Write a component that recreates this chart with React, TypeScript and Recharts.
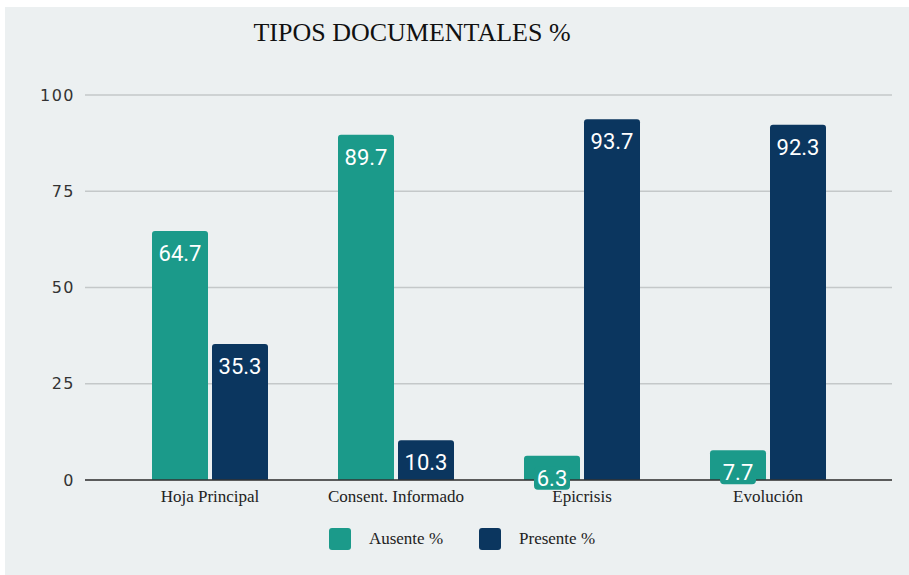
import React from 'react';
import { BarChart, Bar, XAxis, YAxis, CartesianGrid, Legend, LabelList } from 'recharts';

const categories = ['Hoja Principal', 'Consent. Informado', 'Epicrisis', 'Evolución'];
const ausente = [64.7, 89.7, 6.3, 7.7];
const presente = [35.3, 10.3, 93.7, 92.3];
const seriesNames = ['Ausente %', 'Presente %'];
const seriesColors = ['#1b9a8a', '#0b365f'];
const yTicks = [0, 25, 50, 75, 100];
const title = 'TIPOS DOCUMENTALES %';

const data = categories.map((c, i) => ({ name: c, ausente: ausente[i], presente: presente[i] }));

const makeLabel = (color: string) => (props: any) => {
  const { x, y, width, height, value } = props;
  const cx = Number(x) + Number(width) / 2;
  const top = Number(y);
  const small = Number(height) < 36;
  return (
    <g>
      {small && (
        <rect x={cx - 18} y={top + 11} width={36} height={23} rx={4} ry={4} fill={color} />
      )}
      <text
        x={cx}
        y={top + 30}
        textAnchor="middle"
        fill="#ffffff"
        fontFamily="Roboto"
        fontSize={22}
      >
        {String(value)}
      </text>
    </g>
  );
};

const renderLegend = () => (
  <div
    style={{
      display: 'flex',
      justifyContent: 'center',
      alignItems: 'center',
      height: 40,
      paddingLeft: 32,
      fontFamily: '"Liberation Serif", serif',
      fontSize: 17,
      color: '#222',
    }}
  >
    {seriesNames.map((n, i) => (
      <div key={n} style={{ display: 'flex', alignItems: 'center', marginRight: i === 0 ? 36 : 0 }}>
        <div style={{ width: 22, height: 22, borderRadius: 3, background: seriesColors[i], marginRight: 18 }} />
        <span>{n}</span>
      </div>
    ))}
  </div>
);

export default function App() {
  return (
    <div style={{ position: 'absolute', left: 0, top: 0, width: 909, height: 575, background: '#ffffff' }}>
      <div style={{ position: 'absolute', left: 5, top: 7, width: 904, height: 568, background: '#ecf0f1' }} />
      <div
        style={{
          position: 'absolute',
          left: 212,
          top: 15,
          width: 400,
          textAlign: 'center',
          fontFamily: '"Liberation Serif", serif',
          fontSize: 26,
          color: '#111',
          lineHeight: '36px',
        }}
      >
        {title}
      </div>
      <div style={{ position: 'absolute', left: 0, top: 0 }}>
        <BarChart
          width={909}
          height={575}
          data={data}
          margin={{ top: 95, right: 17, bottom: 16, left: 0 }}
          barSize={56}
          barGap={4}
        >
          <CartesianGrid vertical={false} stroke="#c4c8c9" strokeWidth={1.3} />
          <XAxis
            dataKey="name"
            height={39}
            padding={{ left: 32, right: 31 }}
            tickLine={false}
            tickSize={0}
            tickMargin={10}
            axisLine={{ stroke: '#333', strokeWidth: 1.3 }}
            tick={{ fontFamily: '"Liberation Serif", serif', fontSize: 17, fill: '#222' }}
            interval={0}
          />
          <YAxis
            domain={[0, 100]}
            ticks={yTicks}
            width={85}
            axisLine={false}
            tickLine={false}
            tickSize={0}
            tickMargin={10}
            tick={{ fontFamily: '"DejaVu Sans", sans-serif', fontSize: 16, fill: '#333', letterSpacing: 1.5 }}
          />
          <Legend verticalAlign="bottom" content={renderLegend} />
          <Bar dataKey="ausente" name={seriesNames[0]} fill={seriesColors[0]} radius={[3, 3, 0, 0]} isAnimationActive={false}>
            <LabelList dataKey="ausente" content={makeLabel(seriesColors[0])} />
          </Bar>
          <Bar dataKey="presente" name={seriesNames[1]} fill={seriesColors[1]} radius={[3, 3, 0, 0]} isAnimationActive={false}>
            <LabelList dataKey="presente" content={makeLabel(seriesColors[1])} />
          </Bar>
        </BarChart>
      </div>
    </div>
  );
}
